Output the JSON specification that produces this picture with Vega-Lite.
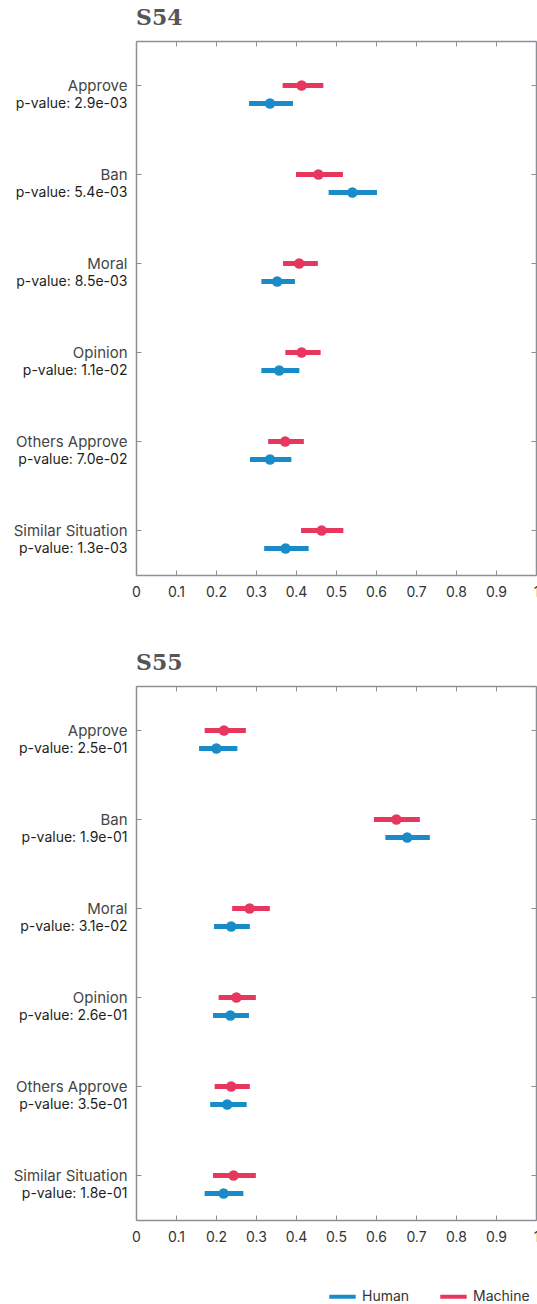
{
  "$schema": "https://vega.github.io/schema/vega-lite/v6.json",
  "background": "white",
  "padding": {"left": 5, "right": 0, "top": 6, "bottom": 0},
  "datasets": {
    "s54": [
      {"label": "Approve|p-value: 2.9e-03", "group": "Machine", "mean": 0.414, "lo": 0.367, "hi": 0.468},
      {"label": "Approve|p-value: 2.9e-03", "group": "Human", "mean": 0.335, "lo": 0.283, "hi": 0.392},
      {"label": "Ban|p-value: 5.4e-03", "group": "Machine", "mean": 0.456, "lo": 0.400, "hi": 0.517},
      {"label": "Ban|p-value: 5.4e-03", "group": "Human", "mean": 0.541, "lo": 0.482, "hi": 0.602},
      {"label": "Moral|p-value: 8.5e-03", "group": "Machine", "mean": 0.408, "lo": 0.368, "hi": 0.454},
      {"label": "Moral|p-value: 8.5e-03", "group": "Human", "mean": 0.353, "lo": 0.314, "hi": 0.397},
      {"label": "Opinion|p-value: 1.1e-02", "group": "Machine", "mean": 0.414, "lo": 0.374, "hi": 0.461},
      {"label": "Opinion|p-value: 1.1e-02", "group": "Human", "mean": 0.358, "lo": 0.314, "hi": 0.408},
      {"label": "Others Approve|p-value: 7.0e-02", "group": "Machine", "mean": 0.373, "lo": 0.331, "hi": 0.419},
      {"label": "Others Approve|p-value: 7.0e-02", "group": "Human", "mean": 0.335, "lo": 0.285, "hi": 0.388},
      {"label": "Similar Situation|p-value: 1.3e-03", "group": "Machine", "mean": 0.464, "lo": 0.413, "hi": 0.518},
      {"label": "Similar Situation|p-value: 1.3e-03", "group": "Human", "mean": 0.374, "lo": 0.321, "hi": 0.431}
    ],
    "s55": [
      {"label": "Approve|p-value: 2.5e-01", "group": "Machine", "mean": 0.220, "lo": 0.172, "hi": 0.274},
      {"label": "Approve|p-value: 2.5e-01", "group": "Human", "mean": 0.201, "lo": 0.158, "hi": 0.253},
      {"label": "Ban|p-value: 1.9e-01", "group": "Machine", "mean": 0.651, "lo": 0.595, "hi": 0.709},
      {"label": "Ban|p-value: 1.9e-01", "group": "Human", "mean": 0.678, "lo": 0.624, "hi": 0.734},
      {"label": "Moral|p-value: 3.1e-02", "group": "Machine", "mean": 0.284, "lo": 0.241, "hi": 0.334},
      {"label": "Moral|p-value: 3.1e-02", "group": "Human", "mean": 0.238, "lo": 0.195, "hi": 0.284},
      {"label": "Opinion|p-value: 2.6e-01", "group": "Machine", "mean": 0.251, "lo": 0.207, "hi": 0.299},
      {"label": "Opinion|p-value: 2.6e-01", "group": "Human", "mean": 0.236, "lo": 0.193, "hi": 0.282},
      {"label": "Others Approve|p-value: 3.5e-01", "group": "Machine", "mean": 0.238, "lo": 0.197, "hi": 0.284},
      {"label": "Others Approve|p-value: 3.5e-01", "group": "Human", "mean": 0.228, "lo": 0.186, "hi": 0.276},
      {"label": "Similar Situation|p-value: 1.8e-01", "group": "Machine", "mean": 0.244, "lo": 0.193, "hi": 0.299},
      {"label": "Similar Situation|p-value: 1.8e-01", "group": "Human", "mean": 0.219, "lo": 0.172, "hi": 0.268}
    ]
  },
  "spacing": 52,
  "vconcat": [
    {
      "title": {"text": "S54", "anchor": "start", "frame": "group", "font": "DejaVu Serif", "fontSize": 22, "fontWeight": "bold", "color": "#555555", "offset": 11},
      "width": 400,
      "height": 534,
      "data": {"name": "s54"},
      "resolve": {"axis": {"x": "independent", "y": "independent"}},
      "layer": [
        {
          "mark": {"type": "rule", "strokeWidth": 5},
          "encoding": {
            "y": {"field": "label", "type": "nominal", "sort": null, "scale": {"paddingInner": 0, "paddingOuter": 0},
              "axis": {"orient": "left", "offset": 0, "title": null, "labelExpr": "split(datum.label, '|')[0]", "labelBaseline": "middle", "labelFontSize": 15, "labelColor": "#454545", "labelPadding": 14, "tickSize": -5, "minExtent": 131, "maxExtent": 131, "labelLimit": 200}},
            "yOffset": {"field": "group", "type": "nominal", "sort": ["Machine", "Human"], "scale": {"range": [35.5, 71.5], "paddingInner": 0, "paddingOuter": 0}},
            "x": {"field": "lo", "type": "quantitative", "scale": {"domain": [0, 1], "nice": false},
              "axis": {"orient": "bottom", "title": null, "values": [0, 0.1, 0.2, 0.3, 0.4, 0.5, 0.6, 0.7, 0.8, 0.9, 1], "format": ".1~f", "tickSize": -5, "labelPadding": 15, "labelFontSize": 14, "labelColor": "#333333", "labelFlush": false}},
            "x2": {"field": "hi"},
            "color": {"field": "group", "type": "nominal"}
          }
        },
        {
          "mark": {"type": "rule", "strokeWidth": 5},
          "encoding": {
            "y": {"field": "label", "type": "nominal", "sort": null,
              "axis": {"orient": "left", "offset": 0, "title": null, "domain": false, "ticks": false, "labelExpr": "split(datum.label, '|')[1]", "labelBaseline": "middle", "labelOffset": 18, "labelFontSize": 14, "labelColor": "#1e1e1e", "labelPadding": 9, "minExtent": 131, "maxExtent": 131, "labelLimit": 200}},
            "yOffset": {"field": "group", "type": "nominal", "sort": ["Machine", "Human"]},
            "x": {"field": "lo", "type": "quantitative", "axis": {"orient": "top", "title": null, "labels": false, "values": [0, 0.1, 0.2, 0.3, 0.4, 0.5, 0.6, 0.7, 0.8, 0.9, 1], "tickSize": -5, "minExtent": 0}},
            "x2": {"field": "hi"},
            "color": {"field": "group", "type": "nominal"}
          }
        },
        {
          "mark": {"type": "point", "filled": true, "size": 110, "opacity": 1},
          "encoding": {
            "y": {"field": "label", "type": "nominal", "sort": null, "axis": {"orient": "right", "title": null, "labels": false, "tickSize": -5, "minExtent": 0}},
            "yOffset": {"field": "group", "type": "nominal", "sort": ["Machine", "Human"]},
            "x": {"field": "mean", "type": "quantitative", "axis": null},
            "color": {"field": "group", "type": "nominal"}
          }
        }
      ]
    },
    {
      "title": {"text": "S55", "anchor": "start", "frame": "group", "font": "DejaVu Serif", "fontSize": 22, "fontWeight": "bold", "color": "#555555", "offset": 11},
      "width": 400,
      "height": 534,
      "data": {"name": "s55"},
      "resolve": {"axis": {"x": "independent", "y": "independent"}},
      "layer": [
        {
          "mark": {"type": "rule", "strokeWidth": 5},
          "encoding": {
            "y": {"field": "label", "type": "nominal", "sort": null, "scale": {"paddingInner": 0, "paddingOuter": 0},
              "axis": {"orient": "left", "offset": 0, "title": null, "labelExpr": "split(datum.label, '|')[0]", "labelBaseline": "middle", "labelFontSize": 15, "labelColor": "#454545", "labelPadding": 14, "tickSize": -5, "minExtent": 131, "maxExtent": 131, "labelLimit": 200}},
            "yOffset": {"field": "group", "type": "nominal", "sort": ["Machine", "Human"], "scale": {"range": [35.5, 71.5], "paddingInner": 0, "paddingOuter": 0}},
            "x": {"field": "lo", "type": "quantitative", "scale": {"domain": [0, 1], "nice": false},
              "axis": {"orient": "bottom", "title": null, "values": [0, 0.1, 0.2, 0.3, 0.4, 0.5, 0.6, 0.7, 0.8, 0.9, 1], "format": ".1~f", "tickSize": -5, "labelPadding": 15, "labelFontSize": 14, "labelColor": "#333333", "labelFlush": false}},
            "x2": {"field": "hi"},
            "color": {"field": "group", "type": "nominal"}
          }
        },
        {
          "mark": {"type": "rule", "strokeWidth": 5},
          "encoding": {
            "y": {"field": "label", "type": "nominal", "sort": null,
              "axis": {"orient": "left", "offset": 0, "title": null, "domain": false, "ticks": false, "labelExpr": "split(datum.label, '|')[1]", "labelBaseline": "middle", "labelOffset": 18, "labelFontSize": 14, "labelColor": "#1e1e1e", "labelPadding": 9, "minExtent": 131, "maxExtent": 131, "labelLimit": 200}},
            "yOffset": {"field": "group", "type": "nominal", "sort": ["Machine", "Human"]},
            "x": {"field": "lo", "type": "quantitative", "axis": {"orient": "top", "title": null, "labels": false, "values": [0, 0.1, 0.2, 0.3, 0.4, 0.5, 0.6, 0.7, 0.8, 0.9, 1], "tickSize": -5, "minExtent": 0}},
            "x2": {"field": "hi"},
            "color": {"field": "group", "type": "nominal"}
          }
        },
        {
          "mark": {"type": "point", "filled": true, "size": 110, "opacity": 1},
          "encoding": {
            "y": {"field": "label", "type": "nominal", "sort": null, "axis": {"orient": "right", "title": null, "labels": false, "tickSize": -5, "minExtent": 0}},
            "yOffset": {"field": "group", "type": "nominal", "sort": ["Machine", "Human"]},
            "x": {"field": "mean", "type": "quantitative", "axis": null},
            "color": {"field": "group", "type": "nominal"}
          }
        }
      ]
    }
  ],
  "resolve": {"scale": {"color": "shared"}},
  "config": {
    "font": "Inter",
    "view": {"stroke": null},
    "axis": {"grid": false, "domainColor": "#8c9096", "domainWidth": 1.5, "tickColor": "#8c9096", "tickWidth": 1, "labelOverlap": false},
    "scale": {"bandPaddingInner": 0, "bandPaddingOuter": 0},
    "range": {"category": ["#1a8bc9", "#e8375f"]},
    "legend": {
      "orient": "none",
      "legendX": 191,
      "legendY": 1240,
      "direction": "horizontal",
      "title": null,
      "symbolType": "stroke",
      "symbolStrokeWidth": 4,
      "symbolSize": 700,
      "labelFontSize": 14,
      "labelColor": "#333333",
      "columnPadding": 22
    }
  }
}
